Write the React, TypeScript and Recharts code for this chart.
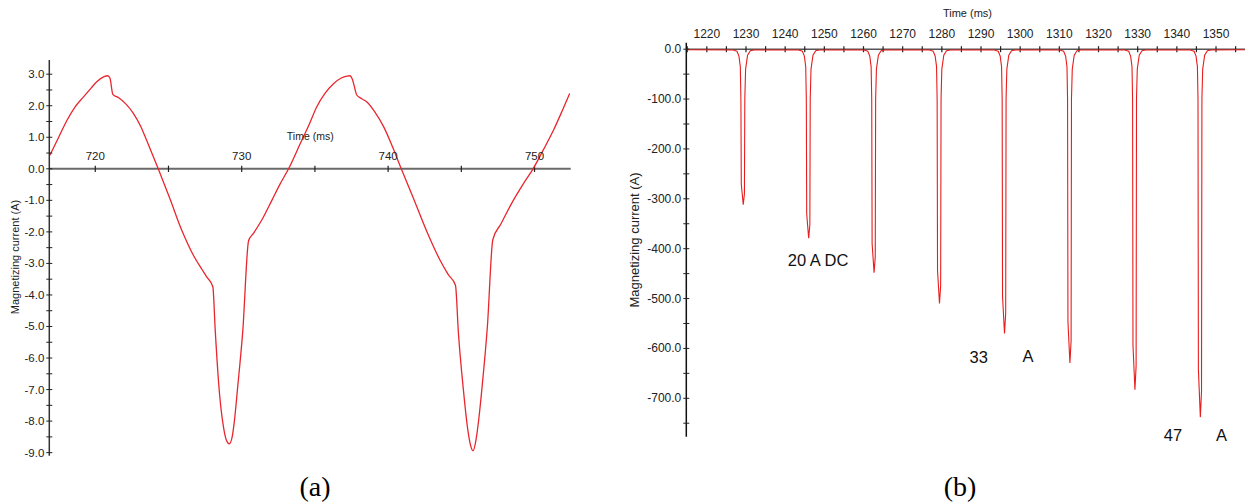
import React from 'react';
import { LineChart, Line, XAxis, YAxis, ReferenceLine, ReferenceDot } from 'recharts';

// (a) one cycle and a bit of magnetizing current, time in ms, current in A
const timeA = [
  716.9, 717.5, 718.07, 718.6, 719.2, 719.7, 720.1, 720.6, 720.85, 721.0, 721.2, 721.6, 722.1, 722.6, 723.1,
  723.5, 724.3, 725.1, 725.9, 726.7, 727.3, 727.6, 728.03, 728.19, 728.46, 728.76, 728.95, 729.15, 729.35,
  729.5, 729.71, 730.08, 730.47, 730.8, 731.4, 732.06, 732.6, 733.2, 734.0, 734.6, 735.13, 735.7, 736.27,
  736.8, 737.2, 737.4, 737.55, 737.86, 738.2, 738.55, 739.1, 739.7, 740.3, 740.9, 741.7, 742.6, 743.55,
  744.1, 744.6, 744.8, 745.14, 745.45, 745.65, 745.8, 746.0, 746.2, 746.4, 746.78, 747.15, 747.7, 748.55,
  749.2, 749.9, 750.6, 751.3, 751.9, 752.4
];
const currentA = [
  0.43, 1.0, 1.54, 1.95, 2.28, 2.55, 2.76, 2.92, 2.95, 2.88, 2.36, 2.25, 2.05, 1.76, 1.35,
  0.91, 0.0, -0.95, -1.94, -2.74, -3.2, -3.42, -3.74, -5.1, -7.0, -8.2, -8.6, -8.72, -8.5,
  -8.0, -7.0, -5.1, -2.28, -2.05, -1.6, -1.0, -0.5, 0.0, 0.8, 1.4, 1.97, 2.4, 2.7,
  2.88, 2.94, 2.95, 2.85, 2.34, 2.22, 2.12, 1.8, 1.33, 0.7, 0.0, -0.9, -1.94, -2.9,
  -3.35, -3.69, -5.2, -7.0, -8.3, -8.8, -8.94, -8.6, -7.9, -7.0, -5.0, -2.25, -1.75, -1.0,
  -0.5, 0.0, 0.6, 1.23, 1.85, 2.39
];
const yTicksA = [-9, -8.5, -8, -7.5, -7, -6.5, -6, -5.5, -5, -4.5, -4, -3.5, -3, -2.5, -2, -1.5, -1, -0.5, 0, 0.5, 1, 1.5, 2, 2.5, 3];
const xTicksA = [720, 725, 730, 735, 740, 745, 750];
const xLabelsA = [720, 730, 740, 750];

// (b) inrush pulses, one line per pulse
const timeB = [
  1214.8,
  1226.7, 1227.7, 1228.2, 1228.55, 1228.7, 1228.8, 1229.3, 1229.6, 1229.7, 1229.9, 1230.4, 1231.1, 1232.1,
  1243.4, 1244.4, 1244.9, 1245.25, 1245.4, 1245.5, 1246.0, 1246.3, 1246.4, 1246.6, 1247.1, 1247.8, 1248.8,
  1260.1, 1261.1, 1261.6, 1261.95, 1262.1, 1262.2, 1262.7, 1263.0, 1263.1, 1263.3, 1263.8, 1264.5, 1265.5,
  1276.8, 1277.8, 1278.3, 1278.65, 1278.8, 1278.9, 1279.4, 1279.7, 1279.8, 1280.0, 1280.5, 1281.2, 1282.2,
  1293.4, 1294.4, 1294.9, 1295.25, 1295.4, 1295.5, 1296.0, 1296.3, 1296.4, 1296.6, 1297.1, 1297.8, 1298.8,
  1310.1, 1311.1, 1311.6, 1311.95, 1312.1, 1312.2, 1312.7, 1313.0, 1313.1, 1313.3, 1313.8, 1314.5, 1315.5,
  1326.7, 1327.7, 1328.2, 1328.55, 1328.7, 1328.8, 1329.3, 1329.6, 1329.7, 1329.9, 1330.4, 1331.1, 1332.1,
  1343.4, 1344.4, 1344.9, 1345.25, 1345.4, 1345.5, 1346.0, 1346.3, 1346.4, 1346.6, 1347.1, 1347.8, 1348.8,
  1357.4
];
const currentB = [
  -1,
  -1.5, -4, -14, -35, -100, -271, -312, -290, -100, -40, -12, -3, -1.5,
  -1.5, -4, -14, -35, -100, -330, -379, -352, -100, -40, -12, -3, -1.5,
  -1.5, -4, -14, -35, -100, -390, -448, -417, -100, -40, -12, -3, -1.5,
  -1.5, -4, -14, -35, -100, -444, -510, -474, -100, -40, -12, -3, -1.5,
  -1.5, -4, -14, -35, -100, -496, -570, -530, -100, -40, -12, -3, -1.5,
  -1.5, -4, -14, -35, -100, -547, -629, -585, -100, -40, -12, -3, -1.5,
  -1.5, -4, -14, -35, -100, -594, -683, -635, -100, -40, -12, -3, -1.5,
  -1.5, -4, -14, -35, -100, -642, -738, -686, -100, -40, -12, -3, -1.5,
  -1
];
const yTicksB = [-750, -700, -650, -600, -550, -500, -450, -400, -350, -300, -250, -200, -150, -100, -50, 0];
const xTicksB = [1215, 1220, 1225, 1230, 1235, 1240, 1245, 1250, 1255, 1260, 1265, 1270, 1275, 1280, 1285, 1290,
  1295, 1300, 1305, 1310, 1315, 1320, 1325, 1330, 1335, 1340, 1345, 1350, 1355];
const xLabelsB = [1220, 1230, 1240, 1250, 1260, 1270, 1280, 1290, 1300, 1310, 1320, 1330, 1340, 1350];

const notesB = [
  { t: 1248.4, v: -422.7, text: '20 A DC' },
  { t: 1289.4, v: -616.6, text: '33' },
  { t: 1302.0, v: -615, text: 'A' },
  { t: 1339.0, v: -773.7, text: '47' },
  { t: 1351.4, v: -773.7, text: 'A' }
];

const dataA = timeA.map((t, i) => ({ t, v: currentA[i] }));
const dataB = timeB.map((t, i) => ({ t, v: currentB[i] }));

const SANS = '"Liberation Sans", Arial, sans-serif';
const SERIF = '"Liberation Serif", "Times New Roman", serif';

const makeYTick = (size: number, gap: number) => (props: any) => {
  const { x, y, payload } = props;
  const major = payload.value % 1 === 0 && (size < 12 || payload.value % 100 === 0);
  return (
    <g>
      <line x1={x - 3} x2={x + 3} y1={y} y2={y} stroke="#222" strokeWidth={1} />
      {major && (
        <text x={x - gap} y={y} dy={4} textAnchor="end" fontSize={size} fontFamily={SANS} fill="#222">
          {payload.value.toFixed(1)}
        </text>
      )}
    </g>
  );
};

const AxisTitle = ({ cx, cy, size, text }: { cx: number; cy: number; size: number; text: string }) => (
  <div
    style={{
      position: 'absolute',
      left: cx - 110,
      top: cy - 8,
      width: 220,
      height: 16,
      lineHeight: '16px',
      textAlign: 'center',
      fontFamily: SANS,
      fontSize: size,
      color: '#222',
      transform: 'rotate(-90deg)',
      whiteSpace: 'nowrap'
    }}
  >
    {text}
  </div>
);

const Caption = ({ cx, text }: { cx: number; text: string }) => (
  <div
    style={{
      position: 'absolute',
      left: cx - 50,
      top: 471,
      width: 100,
      height: 32,
      lineHeight: '32px',
      textAlign: 'center',
      fontFamily: SERIF,
      fontSize: 28,
      color: '#000'
    }}
  >
    {text}
  </div>
);

const App = () => {
  return (
    <div style={{ position: 'absolute', left: 0, top: 0, width: 1247, height: 504, background: '#fff', overflow: 'hidden' }}>
      <div style={{ position: 'absolute', left: 0, top: 0 }}>
        <LineChart width={580} height={470} data={dataA} margin={{ top: 60, right: 9.3, bottom: 14.2, left: 0 }}>
          <XAxis type="number" dataKey="t" domain={[716.86, 752.47]} allowDataOverflow hide />
          <YAxis
            type="number"
            domain={[-9.1, 3.45]}
            allowDataOverflow
            ticks={yTicksA}
            interval={0}
            width={49.3}
            tickSize={0}
            tickMargin={0}
            tickLine={false}
            axisLine={{ stroke: '#333', strokeWidth: 1.5 }}
            tick={makeYTick(11.5, 5)}
          />
          <ReferenceLine y={0} stroke="#6a6a6a" strokeWidth={2} />
          {xTicksA.map((t) => (
            <ReferenceLine key={`ta-${t}`} segment={[{ x: t, y: -0.1 }, { x: t, y: 0.1 }]} stroke="#222" strokeWidth={1.2} />
          ))}
          {xLabelsA.map((t) => (
            <ReferenceDot
              key={`la-${t}`}
              x={t}
              y={0}
              r={0}
              fill="none"
              stroke="none"
              label={{ value: String(t), position: 'top', offset: 9, fontSize: 11.5, fontFamily: SANS, fill: '#222' }}
            />
          ))}
          <ReferenceDot
            x={734.68}
            y={1.04}
            r={0}
            fill="none"
            stroke="none"
            label={{ value: 'Time (ms)', position: 'center', fontSize: 10.5, fontFamily: SANS, fill: '#222' }}
          />
          <Line type="monotone" dataKey="v" stroke="#e8262d" strokeWidth={1.3} dot={false} isAnimationActive={false} />
        </LineChart>
      </div>

      <div style={{ position: 'absolute', left: 600, top: 0 }}>
        <LineChart width={647} height={460} data={dataB} margin={{ top: 42.7, right: 2, bottom: 23.3, left: 0 }}>
          <XAxis type="number" dataKey="t" domain={[1214.76, 1357.4]} allowDataOverflow hide />
          <YAxis
            type="number"
            domain={[-777, 13]}
            allowDataOverflow
            ticks={yTicksB}
            interval={0}
            width={86.3}
            tickSize={0}
            tickMargin={0}
            tickLine={false}
            axisLine={{ stroke: '#111', strokeWidth: 1.5 }}
            tick={makeYTick(12, 5)}
          />
          <ReferenceLine y={0} stroke="#555" strokeWidth={1.5} />
          {xTicksB.map((t) => (
            <ReferenceLine key={`tb-${t}`} segment={[{ x: t, y: -6 }, { x: t, y: 6 }]} stroke="#222" strokeWidth={1.2} />
          ))}
          {xLabelsB.map((t) => (
            <ReferenceDot
              key={`lb-${t}`}
              x={t}
              y={0}
              r={0}
              fill="none"
              stroke="none"
              label={{ value: String(t), position: 'top', offset: 11, fontSize: 12, fontFamily: SANS, fill: '#222' }}
            />
          ))}
          <ReferenceDot
            x={1286.55}
            y={72.8}
            r={0}
            fill="none"
            stroke="none"
            ifOverflow="visible"
            label={{ value: 'Time (ms)', position: 'center', fontSize: 11, fontFamily: SANS, fill: '#222' }}
          />
          {notesB.map((n) => (
            <ReferenceDot
              key={`nb-${n.text}-${n.t}`}
              x={n.t}
              y={n.v}
              r={0}
              fill="none"
              stroke="none"
              label={{ value: n.text, position: 'center', fontSize: 16.5, fontFamily: SANS, fill: '#111' }}
            />
          ))}
          <Line type="linear" dataKey="v" stroke="#e81c1c" strokeWidth={1.1} dot={false} isAnimationActive={false} />
        </LineChart>
      </div>

      <AxisTitle cx={15} cy={257} size={11} text="Magnetizing current (A)" />
      <AxisTitle cx={635} cy={240} size={13} text="Magnetizing current (A)" />
      <Caption cx={315} text="(a)" />
      <Caption cx={960} text="(b)" />
    </div>
  );
};

export default App;
